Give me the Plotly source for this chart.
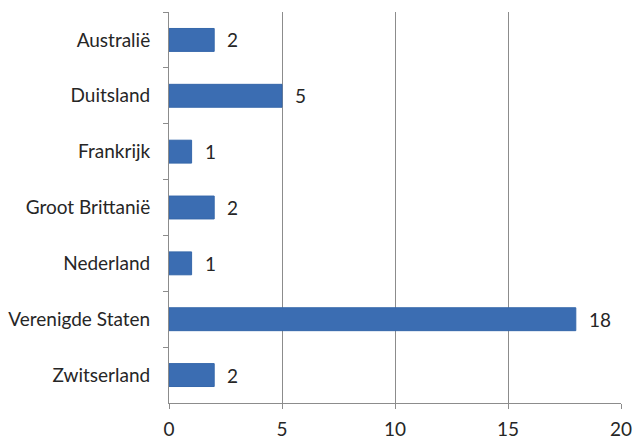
import plotly.graph_objects as go

categories = ["Australië", "Duitsland", "Frankrijk", "Groot Brittanië", "Nederland", "Verenigde Staten", "Zwitserland"]
values = [2, 5, 1, 2, 1, 18, 2]
x_ticks = [0, 5, 10, 15, 20]

FONT = "Lato, sans-serif"
FS = 19
TXT = "#262626"

fig = go.Figure()
fig.add_trace(go.Bar(
    y=categories, x=values, orientation="h",
    marker=dict(color="#3B6DB2", line=dict(color="#3567AA", width=1)),
    hoverinfo="skip",
))
for c, v in zip(categories, values):
    fig.add_annotation(x=v, y=c, text=str(v), showarrow=False, xanchor="left",
                       xshift=11, font=dict(family=FONT, size=FS, color=TXT))

fig.update_layout(
    width=633, height=439,
    margin=dict(l=169, r=12, t=12, b=36),
    paper_bgcolor="white", plot_bgcolor="white",
    bargap=0.59,
    showlegend=False,
    font=dict(family=FONT, size=FS, color=TXT),
)
fig.update_xaxes(
    range=[0, 20], tickvals=x_ticks, showgrid=True, gridcolor="#8c8c8c", gridwidth=1,
    showline=True, linecolor="#8c8c8c", linewidth=1, ticks="outside", ticklen=5,
    tickcolor="#8c8c8c", zeroline=False, fixedrange=True, automargin=False,
    ticklabelstandoff=4,
)
fig.update_yaxes(
    autorange="reversed", showline=True, linecolor="#8c8c8c", linewidth=1,
    ticks="outside", ticklen=5, tickcolor="#8c8c8c", tickson="boundaries",
    ticklabelstandoff=14, showgrid=False, fixedrange=True, automargin=False,
)

fig.write_html("out.html")
